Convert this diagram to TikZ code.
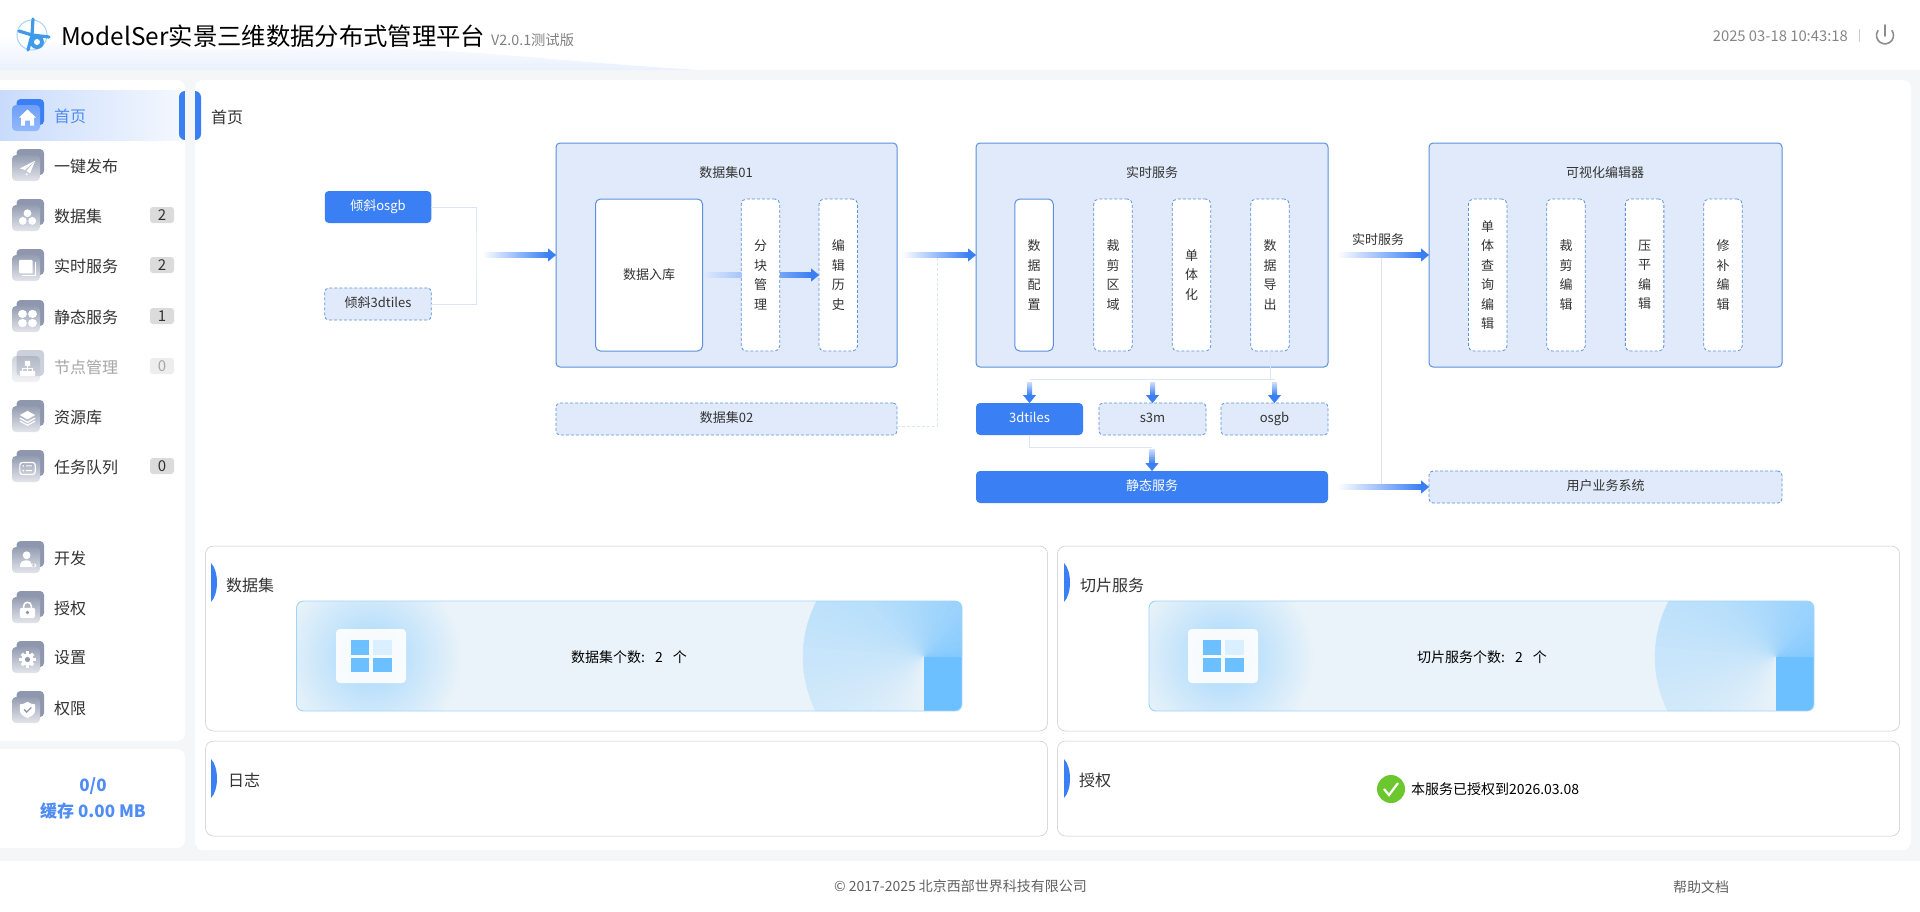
\documentclass[tikz,border=0pt]{standalone}
\usepackage{fontspec}
\setmainfont{Noto Sans CJK SC}
\usetikzlibrary{arrows.meta,calc}
\definecolor{flowblue}{HTML}{3B7FF5}
\definecolor{panelblue}{HTML}{E1EAFA}
\definecolor{edgeblue}{HTML}{5A90DE}
\definecolor{linkgrey}{HTML}{DDE4F2}
\definecolor{pagegrey}{HTML}{F5F6F7}
\definecolor{inktext}{HTML}{333333}
\definecolor{iconback}{HTML}{8E97AD}
\definecolor{cardbase}{HTML}{EAF3F9}
\definecolor{cardsky}{HTML}{6CC0FF}
\definecolor{okgreen}{HTML}{6CC62D}
\definecolor{logoblue}{HTML}{3F9BEA}
\newcommand{\fsz}[2]{\fontsize{#1}{#2}\selectfont}
\tikzset{
    sized/.style 2 args={minimum width=#1,minimum height=#2,inner sep=0pt,outer sep=0pt},
    groupbox/.style={draw=edgeblue,line width=1pt,fill=panelblue,rounded corners=4pt},
    solidbox/.style={fill=flowblue,rounded corners=4pt,text=white,font=\fsz{13}{15},text height=10pt,text depth=4pt},
    dashbox/.style={draw=edgeblue,line width=.8pt,dash pattern=on 3pt off 2pt,fill=panelblue,rounded corners=4pt,text=inktext,font=\fsz{13}{15},text height=10pt,text depth=4pt},
    colsolid/.style={draw=edgeblue,line width=1pt,fill=white,rounded corners=5pt,text=inktext,align=center,font=\fsz{13}{19.5},sized={38.5pt}{152pt}},
    coldash/.style={colsolid,line width=.8pt,dash pattern=on 3pt off 2pt},
    titletext/.style={text=inktext,font=\fsz{13}{15},inner sep=0pt},
    menutext/.style={anchor=west,font=\fsz{16}{18},inner sep=0pt,yshift=-1pt},
    badge/.style={fill=#1,rounded corners=3pt,sized={24pt}{16pt},font=\fsz{15}{16},text=inktext},
    linkline/.style={draw=linkgrey,line width=1pt},
    linkdash/.style={draw=linkgrey,line width=.8pt,dash pattern=on 3pt off 2pt},
    flowtip/.style={draw=flowblue,fill=flowblue,line width=.3pt,-{Triangle[length=8pt,width=13pt]}},
    glyph/.style={fill=white,draw=none},
    panel/.style={draw=black!22,line width=.5pt,rounded corners=8pt,fill=white},
    paneltitle/.style={anchor=west,font=\fsz{16}{18},text=inktext,inner sep=0pt},
    counttext/.style={font=\fsz{14}{16},text=black,inner sep=0pt},
}
\newcommand{\flowright}[3][white]{
    \shade[left color=#1,right color=flowblue] ($(#2)+(0,-2.5)$) rectangle ($(#3)+(-8,2.5)$);
    \draw[flowtip] ($(#3)+(-8,0)$) -- (#3);
}
\newcommand{\flowdown}[2]{
    \shade[top color=flowblue!25,bottom color=flowblue] ($(#1)+(-2.5,0)$) rectangle ($(#2)+(2.5,-8)$);
    \draw[flowtip] ($(#2)+(0,-8)$) -- (#2);
}
\newcommand{\icohome}{\fill[glyph] (-8.5,0)--(0,-8)--(8.5,0)--(6.5,0)--(6.5,8)--(2.5,8)--(2.5,3)--(-2.5,3)--(-2.5,8)--(-6.5,8)--(-6.5,0)--cycle;}
\newcommand{\icoplane}{\fill[glyph] (9,-8)--(-9,1)--(-3,3)--cycle; \fill[glyph] (9,-8)--(-1,4)--(3,7)--cycle; \fill[glyph] (-1,8) circle (1.3);}
\newcommand{\icotrio}{\fill[glyph] (0,-5) circle (4.6) (-5.6,4) circle (4.6) (5.6,4) circle (4.6);}
\newcommand{\icodocs}{\draw[white,line width=.9pt] (-7,9)--(9,9)--(9,-6); \fill[glyph,rounded corners=1pt] (-10,-9) rectangle (6,7);}
\newcommand{\icoclover}{\fill[glyph,rounded corners=3.8pt] (-11,-10) rectangle (-.8,-.8) (.8,-10) rectangle (11,-.8) (-11,.8) rectangle (-.8,10) (.8,.8) rectangle (11,10);}
\newcommand{\icotree}{\fill[glyph] (-3,-9) rectangle (3,-3) (-9,3) rectangle (-3,9) (-3,3) rectangle (3,9) (3,3) rectangle (9,9); \draw[white,line width=1pt] (0,-3)--(0,3) (-6,3)--(-6,0)--(6,0)--(6,3);}
\newcommand{\icolayers}{\draw[white,line width=1.2pt] (-9,3)--(0,8)--(9,3) (-9,-0.5)--(0,4.5)--(9,-0.5); \fill[glyph] (-9,-4)--(0,-9)--(9,-4)--(0,1)--cycle;}
\newcommand{\icolist}{\draw[white,line width=1.2pt,rounded corners=2.5pt] (-9,-7) rectangle (9,7); \fill[glyph] (-5,-3) circle (1.1) (-5,2.5) circle (1.1) (-2,-3.6) rectangle (5,-2.4) (-2,1.9) rectangle (5,3.1);}
\newcommand{\icoperson}{\fill[glyph] (-1,-5) circle (4.6); \fill[glyph] (-9,9) .. controls (-9,2) and (-5,1) .. (-1,1) .. controls (3,1) and (5,3) .. (5,9) -- cycle; \draw[white,line width=.8pt] (6,5)--(4,7)--(6,9) (8,5)--(10,7)--(8,9);}
\newcommand{\icolock}{\draw[white,line width=1.6pt] (-4.5,-1) -- (-4.5,-4) arc (180:360:4.5) -- (4.5,-1); \fill[glyph,rounded corners=2pt] (-9,-2) rectangle (9,10); \fill[iconback] (0,3.5) circle (2.2);}
\newcommand{\icogear}{\fill[glyph] (0,0) circle (7); \foreach \ang in {0,45,...,315}{\draw[white,line width=3.5pt] (0,0) -- (\ang:9.5);} \fill[iconback] (0,0) circle (3);}
\newcommand{\icoshield}{\fill[glyph] (0,-9) .. controls (3,-7) and (6,-6) .. (9,-6) -- (9,1) .. controls (9,6) and (4,8) .. (0,10) .. controls (-4,8) and (-9,6) .. (-9,1) -- (-9,-6) .. controls (-6,-6) and (-3,-7) .. (0,-9) -- cycle; \draw[iconback,line width=1.3pt] (-4,0)--(-1,3)--(4.5,-2.5);}
\newcommand{\statcard}[6]{
    \begin{scope}
        \clip[rounded corners=7pt] (#1,601) rectangle (#2,711);
        \fill[cardbase] (#1,601) rectangle (#2,711);
        \shade[inner color=cardsky!55!cardbase,outer color=cardbase] (#3,657) circle (92);
        \foreach \ang in {0,5,...,265}{
            \pgfmathsetmacro\mixv{80-.2963*\ang}
            \fill[cardsky!\mixv!cardbase,draw=cardsky!\mixv!cardbase,line width=.3pt] (#4,657) -- ++(-\ang:121) arc (-\ang:-\ang-5.2:121) -- cycle;
        }
        \fill[cardsky] (#4,657) rectangle (#2,711);
    \end{scope}
    \draw[draw=cardsky!60!cardbase,line width=.9pt,rounded corners=7pt] (#1,601) rectangle (#2,711);
    \fill[white,opacity=.9,rounded corners=4pt] (#3-35,629) rectangle (#3+35,683);
    \fill[cardsky] (#3-20.5,640) rectangle +(18.5,14.5);
    \fill[cardsky!25!white] (#3+2,640) rectangle +(19,14.5);
    \fill[cardsky] (#3-20.5,658) rectangle +(18.5,14);
    \fill[cardsky] (#3+2,658) rectangle +(19,14);
    \node[counttext] (#6) at (#5,657) {\csname count#6\endcsname};
}
\newcommand{\countsetcount}{数据集个数:\hspace*{10pt}2\hspace*{10pt}个}
\newcommand{\countslicecount}{切片服务个数:\hspace*{10pt}2\hspace*{10pt}个}
\begin{document}
\begin{tikzpicture}[x=1pt,y=-1pt]
    \useasboundingbox (0,0) rectangle (1920,911);
    %page
    \fill[pagegrey] (0,70) rectangle (1920,861);
    \shade[top color=white,bottom color=flowblue!11] (0,36) .. controls (90,52) and (200,50) .. (330,48) .. controls (450,46) and (560,62) .. (700,70) -- (0,70) -- cycle;
    \fill[white,rounded corners=8pt] (-10,80) rectangle (185,741);
    \fill[white,rounded corners=8pt] (-10,749) rectangle (185,848);
    \fill[white,rounded corners=8pt] (195,80) rectangle (1911,850);
    %header
    \draw[logoblue!45,line width=1pt] (32,35) circle (15);
    \draw[logoblue,line width=3.2pt,line cap=round] (32,35) -- (33,19) (32,35) -- (19,31) (32,35) -- (49,37) (32,35) -- (28,50);
    \fill[logoblue] (37,42) circle (7);
    \fill[white] (37,42) circle (3);
    \fill[white] (27,28) circle (2.6);
    \node[anchor=west,font=\fsz{24.35}{26},inner sep=0pt] (apptitle) at (61,36) {ModelSer实景三维数据分布式管理平台};
    \node[anchor=west,font=\fsz{14.3}{15},text=black!50,inner sep=0pt] (appver) at (491,40) {V2.0.1测试版};
    \node[anchor=east,font=\fsz{14.8}{16},text=black!48,inner sep=0pt] (clock) at (1848,36) {2025 03-18 10:43:18};
    \draw[black!20,line width=.8pt] (1859,29) -- (1859,42);
    \draw[black!45,line width=1.6pt,line cap=round] (1878,30.5) arc (215:-35:8.5);
    \draw[black!45,line width=1.6pt,line cap=round] (1885,25) -- (1885,36);
    %sidebar
    \shade[left color=flowblue!28,right color=flowblue!6] (0,90) rectangle (179,140);
    \fill[flowblue,rounded corners=6pt] (179,91) rectangle (201,140);
    \fill[pagegrey] (185,88) rectangle (195,142);
    \fill[flowblue,rounded corners=4pt] (16.5,99) rectangle (44,125);
    \shade[top color=flowblue!75,bottom color=flowblue!55,rounded corners=4pt] (12,105) rectangle (40,131);
    \begin{scope}[shift={(27.5,117.5)}]
        \icohome
    \end{scope}
    \node[menutext,text=flowblue!90] (menuhome) at (54,115) {首页};
    \foreach \rowy/\ttl/\op/\ic/\tone in {165/一键发布/1/plane/inktext,215/数据集/1/trio/inktext,265/实时服务/1/docs/inktext,316/静态服务/1/clover/inktext,366/节点管理/.45/tree/black!35,416/资源库/1/layers/inktext,466/任务队列/1/list/inktext,557/开发/1/person/inktext,607/授权/1/lock/inktext,657/设置/1/gear/inktext,707/权限/1/shield/inktext}{
        \fill[iconback,opacity=\op,rounded corners=4pt] (16.5,\rowy-16) rectangle (44,\rowy+10);
        \shade[top color=iconback!95,bottom color=iconback!25,opacity=\op,rounded corners=4pt] (12,\rowy-10) rectangle (40,\rowy+16);
        \begin{scope}[shift={(27.5,\rowy+2.5)},scale=.85]
            \csname ico\ic\endcsname
        \end{scope}
        \node[menutext,text=\tone] (menu\ic) at (54,\rowy) {\ttl};
    }
    \foreach \rowy/\cnt/\tone/\shadeb in {215/2/inktext/black!14,265/2/inktext/black!14,316/1/inktext/black!14,366/0/black!35/black!7,466/0/inktext/black!14}{
        \node[badge=\shadeb,text=\tone] (count\rowy) at (162,\rowy) {\cnt};
    }
    \node[font=\bfseries\fsz{17}{18},text=flowblue!90,inner sep=0pt] (cacheratio) at (93,786) {0/0};
    \node[font=\bfseries\fsz{17}{18},text=flowblue!90,inner sep=0pt] (cachesize) at (93,811) {缓存~0.00~MB};
    \node[paneltitle] (hometitle) at (211,117) {首页};
    %inputs
    \node[solidbox,sized={106.5pt}{32pt}] (srcosgb) at (378,207) {倾斜osgb};
    \node[dashbox,sized={106.5pt}{32pt}] (srctiles) at (378,304) {倾斜3dtiles};
    \coordinate (srcjoin) at (476,255);
    \coordinate (setin) at (482,255);
    \draw[linkline] (srcosgb.east) -| (srcjoin) |- (srctiles.east);
    %dataset
    \node[groupbox,sized={341pt}{224pt}] (setone) at (726.5,255) {};
    \node[titletext] (setonetitle) at (726,173) {数据集01};
    \node[colsolid,minimum width=107pt] (dbin) at (649,275) {数据入库};
    \node[coldash] (block) at (760.5,275) {分\\块\\管\\理};
    \node[coldash] (hist) at (838.3,275) {编\\辑\\历\\史};
    \shade[left color=flowblue!18,right color=flowblue!45] ($(dbin.east)+(2,-2.5)$) rectangle ($(block.west)+(0,2.5)$);
    \flowright[flowblue!70]{block.east}{hist.west}
    \node[dashbox,sized={341pt}{32pt}] (settwo) at (726.5,419) {数据集02};
    \flowright{setin}{setone.west}
    %realtime service
    \node[groupbox,sized={352pt}{224pt}] (live) at (1152,255) {};
    \node[titletext] (livetitle) at (1152,173) {实时服务};
    \coordinate (livestem) at (937,255);
    \coordinate (livein) at (902,255);
    \draw[linkdash] ($(settwo.east)+(0,7)$) -| (livestem);
    \flowright{livein}{live.west}
    \foreach \cx/\nm/\ttl/\sty in {1034/livecfg/{数\\据\\配\\置}/colsolid,1113/liveclip/{裁\\剪\\区\\域}/coldash,1191.5/livemono/{单\\体\\化}/coldash,1270/liveout/{数\\据\\导\\出}/coldash}{
        \node[\sty] (\nm) at (\cx,275) {\ttl};
    }
    %formats
    \node[solidbox,sized={107pt}{32pt}] (fmttiles) at (1029.5,419) {3dtiles};
    \node[dashbox,sized={107pt}{32pt}] (fmts3m) at (1152.5,419) {s3m};
    \node[dashbox,sized={107pt}{32pt}] (fmtosgb) at (1274.5,419) {osgb};
    \coordinate (fanleft) at (1029.5,379);
    \coordinate (fanright) at (1274.5,379);
    \draw[linkline] (fanleft) -- (fanright);
    \draw[linkline] (liveout.south) -- (liveout.south |- fanleft);
    \foreach \nm in {fmttiles,fmts3m,fmtosgb}{
        \coordinate (\nm top) at ($(\nm.north)+(0,-21)$);
        \flowdown{\nm top}{\nm.north}
    }
    \node[solidbox,sized={352pt}{32pt}] (static) at (1152,487) {静态服务};
    \coordinate (staticjoin) at (1152,447);
    \coordinate (staticin) at (1152,449);
    \draw[linkline] (fmttiles.south) |- (staticjoin);
    \flowdown{staticin}{static.north}
    %editor
    \node[groupbox,sized={353pt}{224pt}] (editor) at (1605.5,255) {};
    \node[titletext] (editortitle) at (1605,173) {可视化编辑器};
    \foreach \cx/\nm/\ttl in {1487.7/edmono/{单\\体\\查\\询\\编\\辑},1566/edclip/{裁\\剪\\编\\辑},1644.6/edflat/{压\\平\\编\\辑},1723/edfix/{修\\补\\编\\辑}}{
        \node[coldash] (\nm) at (\cx,275) {\ttl};
    }
    \node[dashbox,sized={353pt}{32pt}] (usersys) at (1605.5,487) {用户业务系统};
    \coordinate (liveout2) at (1337,255);
    \coordinate (staticout) at (1337,487);
    \coordinate (livetap) at (1381,255);
    \coordinate (statictap) at (1381,487);
    \draw[linkline] (livetap) -- (statictap);
    \flowright{liveout2}{editor.west}
    \flowright{staticout}{usersys.west}
    \node[titletext] (feedlabel) at (1378,240) {实时服务};
    %panels
    \node[panel,sized={842pt}{185pt}] (setpanel) at (626.5,638.5) {};
    \node[panel,sized={842pt}{185pt}] (slicepanel) at (1478.5,638.5) {};
    \node[panel,sized={842pt}{95pt}] (logpanel) at (626.5,788.5) {};
    \node[panel,sized={842pt}{95pt}] (licpanel) at (1478.5,788.5) {};
    \foreach \tx/\ty in {211/563,1064/563,211/759,1064/759}{
        \fill[flowblue] (\tx,\ty) .. controls (\tx+8,\ty+8) and (\tx+8,\ty+31) .. (\tx,\ty+39) -- cycle;
    }
    \node[paneltitle] (settitle) at (226,585) {数据集};
    \node[paneltitle] (slicetitle) at (1080,585) {切片服务};
    \node[paneltitle] (logtitle) at (228,780) {日志};
    \node[paneltitle] (lictitle) at (1079,780) {授权};
    \statcard{296.5}{962}{371}{924}{629}{setcount}
    \statcard{1149}{1814}{1223}{1776}{1482}{slicecount}
    \fill[okgreen] (1391,789) circle (14);
    \draw[white,line width=2.2pt] (1384,789) -- (1389,795) -- (1398,783);
    \node[counttext,anchor=west] (licnote) at (1411,789) {本服务已授权到2026.03.08};
    %footer
    \node[font=\fsz{14}{16},text=black!62,inner sep=0pt] (copyright) at (960.5,886) {© 2017-2025 北京西部世界科技有限公司};
    \node[font=\fsz{14}{16},text=black!62,inner sep=0pt] (helpdoc) at (1701,887) {帮助文档};
\end{tikzpicture}
\end{document}
